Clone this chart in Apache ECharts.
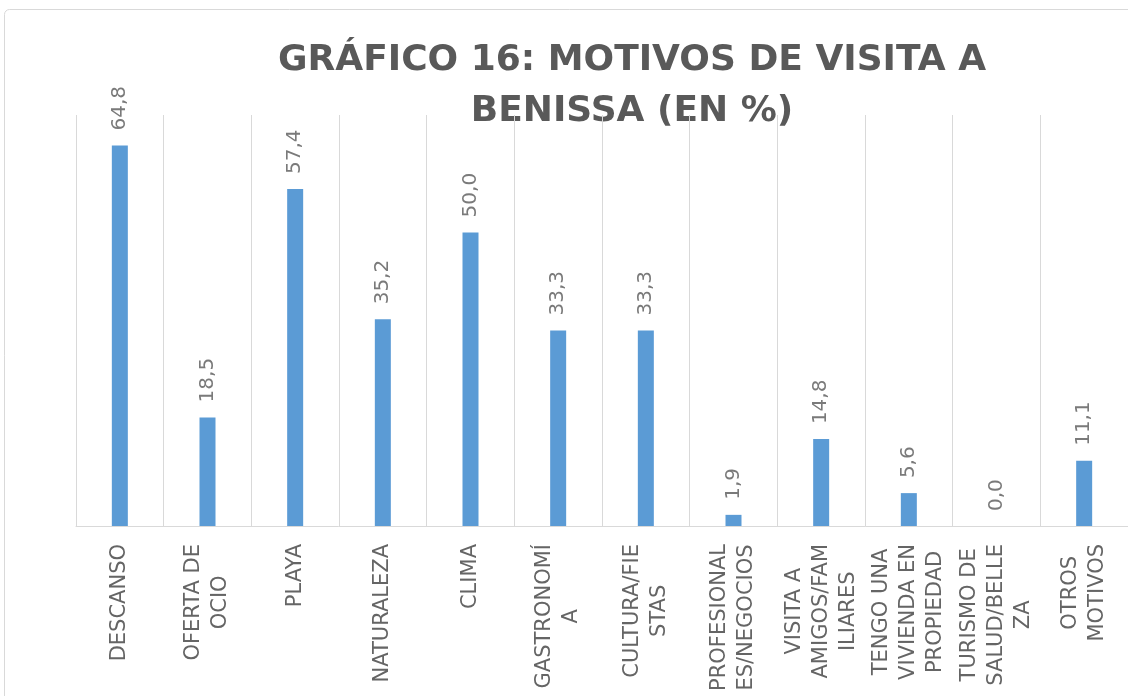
<!DOCTYPE html>
<html>
<head>
<meta charset="utf-8">
<script src="https://cdn.jsdelivr.net/npm/echarts@6/dist/echarts.min.js"></script>
<style>html,body{margin:0;padding:0;background:#fff}#c{width:1128px;height:696px}</style>
</head>
<body>
<div id="c"></div>
<script>
const titleText = 'GRÁFICO 16: MOTIVOS DE VISITA A\nBENISSA (EN %)';
const categories = ['DESCANSO', 'OFERTA DE\nOCIO', 'PLAYA', 'NATURALEZA', 'CLIMA', 'GASTRONOMÍ\nA',
  'CULTURA/FIE\nSTAS', 'PROFESIONAL\nES/NEGOCIOS', 'VISITA A\nAMIGOS/FAM\nILIARES',
  'TENGO UNA\nVIVIENDA EN\nPROPIEDAD', 'TURISMO DE\nSALUD/BELLE\nZA', 'OTROS\nMOTIVOS'];
const values = [64.8, 18.5, 57.4, 35.2, 50.0, 33.3, 33.3, 1.9, 14.8, 5.6, 0.0, 11.1];

const chart = echarts.init(document.getElementById('c'));
chart.setOption({
  animation: false,
  backgroundColor: '#ffffff',
  graphic: [
    { type: 'rect', shape: { x: 4.5, y: 9.5, width: 1200, height: 800, r: 5 },
      style: { fill: 'none', stroke: '#d9d9d9', lineWidth: 1 }, z: -1 },
    { type: 'text', x: 632, y: 35,
      style: { text: titleText, align: 'center', verticalAlign: 'top',
        font: 'bold 36px "DejaVu Sans"', lineHeight: 51, fill: '#595959' } }
  ],
  grid: { left: 76, right: -4, top: 115, bottom: 170, containLabel: false },
  xAxis: {
    type: 'category',
    data: categories,
    axisTick: { show: false },
    axisLine: { lineStyle: { color: '#d9d9d9', width: 1 } },
    splitLine: { show: true, lineStyle: { color: '#d9d9d9', width: 1 } },
    axisLabel: {
      interval: 0, rotate: 90, margin: 18,
      formatter: function (v) { return v.split('\n').map(function (l) { return '{c|' + l + '}'; }).join('\n'); },
      rich: { c: { align: 'center', fontFamily: 'DejaVu Sans', fontSize: 21, lineHeight: 27, color: '#656565' } }
    }
  },
  yAxis: {
    type: 'value', min: 0, max: 70, show: false,
    splitLine: { show: false }
  },
  series: [{
    type: 'bar',
    data: values,
    barWidth: 16,
    itemStyle: { color: '#5b9bd5' },
    label: {
      show: true, position: 'top', rotate: 90, align: 'left', verticalAlign: 'middle', distance: 15,
      fontFamily: 'DejaVu Sans', fontSize: 20, color: '#7a7a7a',
      formatter: function (p) { return p.value.toFixed(1).replace('.', ','); }
    }
  }]
});
</script>
</body>
</html>
